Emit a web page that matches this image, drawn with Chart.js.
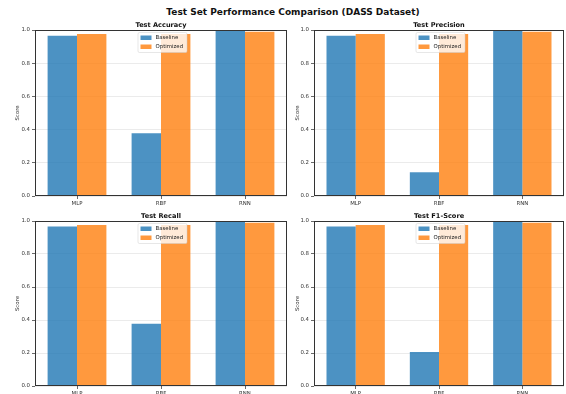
<!DOCTYPE html>
<html>
<head>
<meta charset="utf-8">
<script src="https://cdn.jsdelivr.net/npm/chart.js@4.4.1/dist/chart.umd.min.js"></script>
<style>
  html, body { margin: 0; padding: 0; background: #fff; }
  #wrap { position: relative; width: 566px; height: 394px; overflow: hidden; background: #fff; }
  canvas { position: absolute; }
  #suptitle {
    position: absolute; left: 0; width: 586px; top: 7px; text-align: center;
    font: bold 9px "DejaVu Sans", sans-serif; color: #111; white-space: nowrap;
  }
</style>
</head>
<body>
<div id="wrap">
  <div id="suptitle">Test Set Performance Comparison (DASS Dataset)</div>
  <canvas id="c1"></canvas>
  <canvas id="c2"></canvas>
  <canvas id="c3"></canvas>
  <canvas id="c4"></canvas>
</div>
<script>
// Models compared and the two training variants
const categories = ['MLP', 'RBF', 'RNN'];
const seriesNames = ['Baseline', 'Optimized'];

// Test-set scores per metric
const accuracyBaseline   = [0.966, 0.378, 1.0];
const accuracyOptimized  = [0.976, 0.976, 0.99];
const precisionBaseline  = [0.966, 0.143, 1.0];
const precisionOptimized = [0.976, 0.976, 0.99];
const recallBaseline     = [0.966, 0.378, 1.0];
const recallOptimized    = [0.976, 0.976, 0.99];
const f1Baseline         = [0.966, 0.206, 1.0];
const f1Optimized        = [0.976, 0.976, 0.99];

const panelTitles = ['Test Accuracy', 'Test Precision', 'Test Recall', 'Test F1-Score'];
const yTickStep = 0.2;

const FONT = '"DejaVu Sans", sans-serif';
const BLUE = 'rgba(31,119,180,0.8)';
const ORANGE = 'rgba(255,127,14,0.8)';

// Frame, subplot title and in-axes legend
const panelDecor = {
  id: 'panelDecor',
  afterDraw(chart, args, opts) {
    const ctx = chart.ctx;
    const a = chart.chartArea;
    ctx.save();
    // legend (upper center)
    const bw = 49, bh = 20;
    const bx = (a.left + a.right) / 2 - bw / 2 + 1;
    const by = a.top + 2;
    ctx.fillStyle = 'rgba(255,255,255,0.8)';
    ctx.strokeStyle = 'rgba(204,204,204,0.8)';
    ctx.lineWidth = 0.6;
    ctx.beginPath();
    ctx.roundRect(bx + 0.5, by + 0.5, bw, bh, 1.5);
    ctx.fill();
    ctx.stroke();
    ctx.font = '5.4px ' + FONT;
    ctx.textBaseline = 'middle';
    ctx.textAlign = 'left';
    chart.data.datasets.forEach((ds, i) => {
      const cy = by + 5.5 + i * 9;
      ctx.fillStyle = ds.backgroundColor;
      ctx.fillRect(bx + 3, cy - 2, 11, 4.5);
      ctx.fillStyle = '#222';
      ctx.fillText(ds.label, bx + 18, cy + 0.3);
    });
    // frame
    ctx.strokeStyle = '#333';
    ctx.lineWidth = 1;
    ctx.strokeRect(Math.round(a.left) + 0.5, Math.round(a.top) + 0.5,
                   Math.round(a.right - a.left) - 1, Math.round(a.bottom - a.top) - 1);
    // subplot title
    ctx.fillStyle = '#111';
    ctx.font = 'bold 6.6px ' + FONT;
    ctx.textAlign = 'center';
    ctx.textBaseline = 'alphabetic';
    ctx.fillText(opts.title, (a.left + a.right) / 2, a.top - 3);
    ctx.restore();
  }
};

function makePanel(id, title, baseline, optimized, box) {
  const cv = document.getElementById(id);
  cv.width = box.width; cv.height = box.height;
  cv.style.left = box.left + 'px'; cv.style.top = box.top + 'px';
  cv.style.width = box.width + 'px'; cv.style.height = box.height + 'px';
  const yLabelLeft = 14;
  return new Chart(cv, {
    type: 'bar',
    data: {
      labels: categories,
      datasets: [
        { label: seriesNames[0], data: baseline, backgroundColor: BLUE,
          borderWidth: 0, categoryPercentage: 0.7, barPercentage: 1.0 },
        { label: seriesNames[1], data: optimized, backgroundColor: ORANGE,
          borderWidth: 0, categoryPercentage: 0.7, barPercentage: 1.0 }
      ]
    },
    options: {
      responsive: false,
      animation: false,
      devicePixelRatio: 1,
      layout: {
        padding: {
          left: yLabelLeft,
          top: box.y0 - box.top,
          right: box.left + box.width - box.x1,
          bottom: 0
        }
      },
      plugins: {
        legend: { display: false },
        title: { display: false },
        tooltip: { enabled: false },
        panelDecor: { title: title }
      },
      scales: {
        x: {
          offset: true,
          grid: { display: true, offset: false, drawOnChartArea: false, tickLength: 3, tickColor: '#444', tickWidth: 0.8 },
          border: { display: false },
          ticks: { font: { family: FONT, size: 5.4 }, color: '#333', padding: 1, maxRotation: 0 },
          afterFit(s) { s.height = box.top + box.height - box.y1; }
        },
        y: {
          min: 0, max: 1,
          grid: { color: 'rgba(0,0,0,0.1)', lineWidth: 0.8, tickColor: '#444', tickLength: 3, tickWidth: 0.8 },
          border: { display: false },
          ticks: {
            stepSize: yTickStep,
            font: { family: FONT, size: 5.4 }, color: '#333', padding: 2,
            callback: v => Number(v).toFixed(1)
          },
          title: { display: true, text: 'Score', font: { family: FONT, size: 5.4 }, color: '#333', padding: 0 },
          afterFit(s) { s.width = box.x0 - box.left - yLabelLeft; }
        }
      }
    },
    plugins: [panelDecor]
  });
}

makePanel('c1', panelTitles[0], accuracyBaseline, accuracyOptimized,
  { left: 0, top: 0, width: 292, height: 212, x0: 35, x1: 287, y0: 30, y1: 196 });
makePanel('c2', panelTitles[1], precisionBaseline, precisionOptimized,
  { left: 280, top: 0, width: 286, height: 212, x0: 314, x1: 564, y0: 30, y1: 196 });
makePanel('c3', panelTitles[2], recallBaseline, recallOptimized,
  { left: 0, top: 208, width: 292, height: 186, x0: 35, x1: 287, y0: 221, y1: 386 });
makePanel('c4', panelTitles[3], f1Baseline, f1Optimized,
  { left: 280, top: 208, width: 286, height: 186, x0: 314, x1: 564, y0: 221, y1: 386 });
</script>
</body>
</html>
